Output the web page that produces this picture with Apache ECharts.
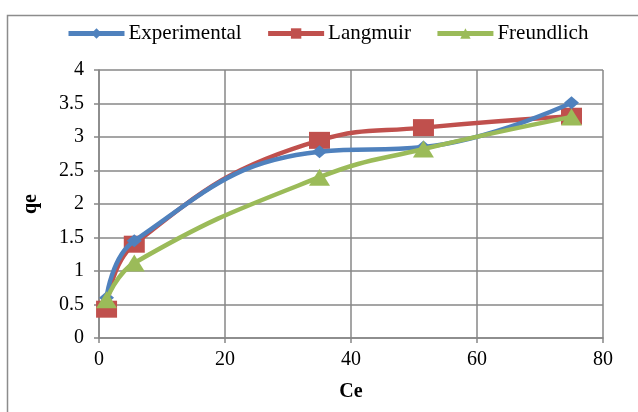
<!DOCTYPE html>
<html><head><meta charset="utf-8">
<script src="https://cdn.jsdelivr.net/npm/echarts@6/dist/echarts.min.js"></script>
<style>html,body{margin:0;padding:0;background:#fff}#c{width:638px;height:412px}</style>
</head><body><div id="c"></div>
<script>
const ce = [1.2, 5.6, 35, 51.5, 75];
const experimental = [0.6, 1.45, 2.78, 2.85, 3.51];
const langmuir = [0.43, 1.4, 2.95, 3.14, 3.31];
const freundlich = [0.57, 1.12, 2.4, 2.82, 3.3];
const xTicks = [0, 20, 40, 60, 80];
const yTicks = [0, 0.5, 1, 1.5, 2, 2.5, 3, 3.5, 4];

const pair = (xs, ys) => xs.map((x, i) => [x, ys[i]]);
const font = 'Liberation Serif';
const grey = '#878787';

const chart = echarts.init(document.getElementById('c'));
chart.setOption({
  animation: false,
  textStyle: {fontFamily: font},
  graphic: [{
    type: 'rect', shape: {x: 7.5, y: 15.5, width: 660, height: 420},
    style: {fill: 'none', stroke: '#8c8c8c', lineWidth: 1.5}, z: -10
  }],
  legend: {
    top: 18, left: 61, itemGap: 24, itemWidth: 56, itemHeight: 13,
    textStyle: {fontFamily: font, fontSize: 21, color: '#000', padding: [0,0,0,-1]},
    lineStyle: {width: 5},
    data: ['Experimental', 'Langmuir', 'Freundlich']
  },
  grid: {left: 99, right: 35, top: 70, bottom: 74},
  xAxis: {
    type: 'value', min: 0, max: 80, interval: 20,
    name: 'Ce', nameLocation: 'middle', nameGap: 44,
    nameTextStyle: {fontFamily: font, fontSize: 20, fontWeight: 'bold', color: '#000'},
    axisLine: {show: true, lineStyle: {color: grey, width: 1.5}},
    axisTick: {show: true, length: 5, lineStyle: {color: grey, width: 1.5}},
    axisLabel: {fontFamily: font, fontSize: 20, color: '#000', margin: 12,
      formatter: v => xTicks.includes(v) ? String(v) : ''},
    splitLine: {show: true, lineStyle: {color: grey, width: 1.5}}
  },
  yAxis: {
    type: 'value', min: 0, max: 4, interval: 0.5,
    name: 'qe', nameLocation: 'middle', nameGap: 58, nameRotate: 90,
    nameTextStyle: {fontFamily: font, fontSize: 20, fontWeight: 'bold', color: '#000'},
    axisLine: {show: true, lineStyle: {color: grey, width: 1.5}},
    axisTick: {show: true, length: 5, lineStyle: {color: grey, width: 1.5}},
    axisLabel: {fontFamily: font, fontSize: 20, color: '#000', margin: 15,
      formatter: v => yTicks.includes(v) ? String(v) : ''},
    splitLine: {show: true, lineStyle: {color: grey, width: 1.5}}
  },
  series: [
    {name: 'Experimental', type: 'line', smooth: 0.45, data: pair(ce, experimental),
     symbol: 'diamond', symbolSize: [15, 13], color: '#4F81BD',
     lineStyle: {width: 4.5, color: '#4F81BD'}, itemStyle: {color: '#4F81BD'}, z: 3},
    {name: 'Langmuir', type: 'line', smooth: 0.45, data: pair(ce, langmuir),
     symbol: 'rect', symbolSize: [21, 17], color: '#C0504D',
     lineStyle: {width: 4.5, color: '#C0504D'}, itemStyle: {color: '#C0504D'}, z: 2},
    {name: 'Freundlich', type: 'line', smooth: 0.45, data: pair(ce, freundlich),
     symbol: 'triangle', symbolSize: [21, 17], color: '#9BBB59',
     lineStyle: {width: 4.5, color: '#9BBB59'}, itemStyle: {color: '#9BBB59'}, z: 4}
  ]
});
</script></body></html>
